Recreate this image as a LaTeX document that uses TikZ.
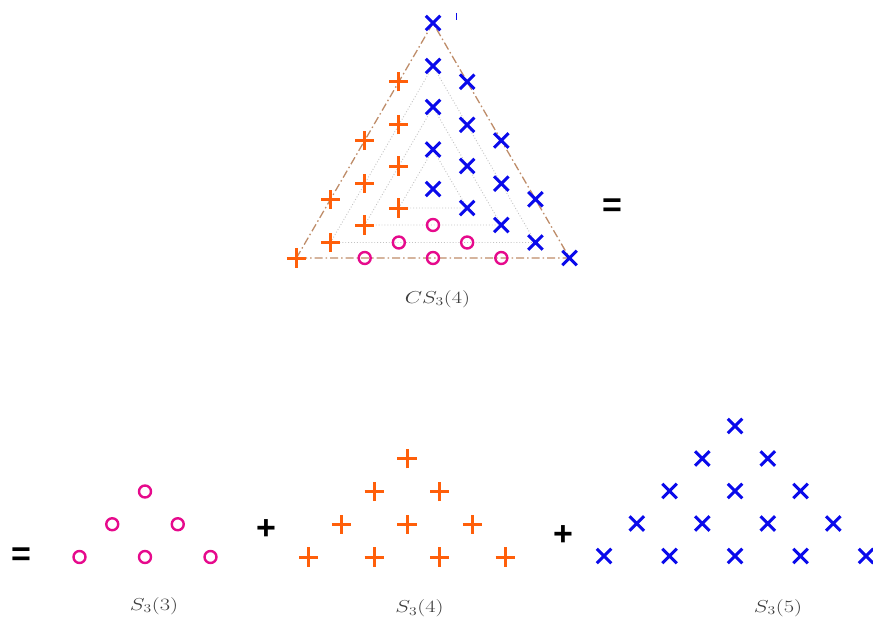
\documentclass[tikz,border=0pt]{standalone}
\usepackage{graphicx}
\usepackage{fontspec}
\newfontfamily\symfont{Liberation Sans}
\usetikzlibrary{shapes.misc}
\definecolor{org}{RGB}{255,95,10}
\definecolor{mag}{RGB}{230,10,140}
\definecolor{blu}{RGB}{10,10,235}
\definecolor{brn}{RGB}{190,140,105}
\definecolor{lgr}{RGB}{195,195,195}
\definecolor{txt}{RGB}{60,60,60}
\newcommand\widemath[1]{\scalebox{1.3}[1]{$#1$}}
\tikzset{
 xm/.style={cross out, draw=blu, line width=3pt, minimum size=11.5pt, inner sep=0pt},
 pm/.style={cross out, draw=org, line width=3pt, minimum size=10.5pt, inner sep=0pt, rotate=45},
 om/.style={circle, draw=mag, line width=2.4pt, minimum size=12pt, inner sep=0pt},
 outerline/.style={draw=brn, line width=1.3pt, dash pattern=on 8pt off 3pt on 1.5pt off 3pt},
 innerline/.style={draw=lgr, line width=0.9pt, dotted},
 lbl/.style={text=txt, font=\fontsize{18}{22}\selectfont, inner sep=0pt},
 op/.style={font=\symfont\bfseries\fontsize{34}{40}\selectfont, inner sep=0pt},
}
\begin{document}
\begin{tikzpicture}[x=1pt,y=-1pt]
\useasboundingbox (0,0) rectangle (873,618);
% layer corners
\foreach \k/\ya/\yb in {0/23/258,1/66/242.5,2/107/225,3/149.5/208,4/189/189}{
  \pgfmathsetmacro\n{4-\k}
  \coordinate (A\k) at (433,\ya);
  \coordinate (BL\k) at ({433-34.15*\n},\yb);
  \coordinate (BR\k) at ({433+34.15*\n},\yb);
}
\draw[outerline] (BL0) -- (A0) -- (BR0) -- cycle;
\foreach \k in {1,2,3} \draw[innerline] (BL\k) -- (A\k) -- (BR\k) -- cycle;
% marks of CS_3(4)
\foreach \k/\ya/\yb in {0/23/258,1/66/242.5,2/107/225,3/149.5/208,4/189/189}{
  \pgfmathtruncatemacro\n{4-\k}
  \pgfmathtruncatemacro\m{\n-1}
  \node[xm] (ta\k) at (A\k) {};
  \ifnum\n>0
    \foreach \j in {0,...,\m}{
      \node[pm] (tl\k\j) at ({433-34.15*(\n-\j)},{\yb-(\yb-\ya)*\j/\n}) {};
    }
    \foreach \j in {1,...,\n}{
      \node[xm] (tr\k\j) at ({433+34.15*\j},{\ya+(\yb-\ya)*\j/\n}) {};
    }
  \fi
  \ifnum\n>1
    \foreach \j in {1,...,\m}{
      \node[om] (tb\k\j) at ({433-34.15*\n+68.3*\j},\yb) {};
    }
  \fi
}
\draw[blu, line width=1pt] (456.5,13) -- (456.5,20);
\node[lbl] (lc) at (437.5,299) {\widemath{CS_3(4)}};
\node[op] (eq1) at (612,208) {=};
% bottom row
\foreach \r in {0,1,2}{
  \foreach \c in {0,...,\r}{
    \node[om] (a\r\c) at ({145+65.5*\c-32.75*\r},{491.5+32.75*\r}) {};
  }
}
\foreach \r in {0,...,3}{
  \foreach \c in {0,...,\r}{
    \node[pm] (b\r\c) at ({407+65.5*\c-32.75*\r},{458.75+32.75*\r}) {};
  }
}
\foreach \r in {0,...,4}{
  \foreach \c in {0,...,\r}{
    \node[xm] (c\r\c) at ({735+65.5*\c-32.75*\r},{426+32.5*\r}) {};
  }
}
\node[op] (eq2) at (21,557) {=};
\node[op] (pl1) at (266,530) {+};
\node[op] (pl2) at (563,536) {+};
\node[lbl] (l3) at (154,606) {\widemath{S_3(3)}};
\node[lbl] (l4) at (419.5,608.5) {\widemath{S_3(4)}};
\node[lbl] (l5) at (778,608) {\widemath{S_3(5)}};
\end{tikzpicture}
\end{document}
